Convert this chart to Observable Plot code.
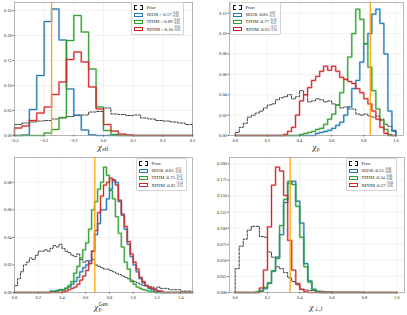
<!DOCTYPE html>
<html><head><meta charset="utf-8">
<script src="https://cdn.jsdelivr.net/npm/d3@7"></script>
<script src="https://cdn.jsdelivr.net/npm/@observablehq/plot@0.6"></script>
<style>
html,body{margin:0;padding:0;background:#fff;}
#root{position:relative;width:407px;height:315px;overflow:hidden;font-family:"Liberation Serif",serif;}
.panel{position:absolute;}
.leg{position:absolute;background:rgba(255,255,255,0.9);border:0.6px solid #d4d4d4;border-radius:1px;font-size:4.6px;padding:1px 3px 1px 2px;color:#222;white-space:nowrap;}
.row{height:7.2px;display:flex;align-items:center;}
.patch{display:inline-block;width:7px;height:2.4px;border:1.1px solid;margin-right:3.5px;}
.frac{display:inline-flex;flex-direction:column;font-size:3px;line-height:3px;margin-left:0.5px;}
.xl{position:absolute;font-family:"Liberation Serif",serif;font-size:9px;line-height:9px;transform:translateX(-50%);white-space:nowrap;color:#222;display:flex;align-items:center;}
.xl i{font-style:italic;}
.xl sub{font-size:5.5px;}
.stack{display:inline-flex;flex-direction:column;font-size:5.5px;line-height:5px;margin-left:0.5px;}
</style></head><body><div id="root"></div><script>
// ---------- data (bin heights) ----------
// Panel 1: chi_eff, bins from -0.3, width 0.025
const effStart = -0.3, effBin = 0.025;
const effPrior = [0.022,0.025,0.027,0.029,0.030,0.033,0.035,0.038,0.041,0.041,0.047,0.048,0.055,0.043,0.042,0.040,0.041,0.035,0.033,0.030,0.029,0.027,0.025,0.022];
const effSEOB  = [0,0.001,0.052,0.12,0.228,0.253,0.191,0.093,0.04,0.011,0.0013,0,0,0,0,0,0,0,0,0,0,0,0,0];
const effTPHM  = [0,0,0,0,0.005,0.012,0.036,0.19,0.24,0.207,0.133,0.057,0.01,0.002,0,0,0,0,0,0,0,0,0,0];
const effXPHM  = [0.015,0.019,0.03,0.045,0.057,0.082,0.107,0.152,0.167,0.147,0.097,0.053,0.022,0.009,0.003,0.001,0,0,0,0,0,0,0,0];
const effInj = -0.175;
const effXTicks = [-0.3,-0.2,-0.1,0.0,0.1,0.2,0.3];
const effYTicks = [0,0.05,0.10,0.15,0.20,0.25];
const effMed = ["−0.17","−0.09","−0.10"], effPlus = ["+0.03","+0.03","+0.05"], effMinus = ["−0.02","−0.03","−0.05"];

// Panel 2: chi_p, bins from 0, width 0.025
const pStart = 0, pBin = 0.025;
const pPrior = [0.003,0.008,0.012,0.018,0.02,0.022,0.024,0.027,0.03,0.031,0.035,0.037,0.038,0.04,0.036,0.038,0.044,0.04,0.033,0.034,0.036,0.035,0.033,0.034,0.031,0.030,0.027,0.028,0.026,0.026,0.021,0.02,0.021,0.019,0.018,0.019,0.016,0.011,0.009,0.004];
const pSEOB  = [0,0,0,0,0,0,0,0,0,0,0,0,0,0,0,0,0,0,0,0,0.002,0.003,0.004,0.005,0.007,0.01,0.013,0.02,0.028,0.046,0.054,0.072,0.09,0.1,0.119,0.124,0.11,0.08,0.024,0.005];
const pTPHM  = [0,0,0,0,0,0,0,0,0,0,0,0,0,0,0,0,0.001,0.002,0.003,0.004,0.006,0.007,0.011,0.016,0.021,0.03,0.042,0.055,0.077,0.1,0.124,0.114,0.09,0.067,0.044,0.026,0.015,0.006,0.001,0];
const pXPHM  = [0,0,0,0,0,0,0,0,0,0,0,0,0.001,0.004,0.008,0.02,0.034,0.04,0.047,0.054,0.058,0.063,0.068,0.064,0.068,0.063,0.057,0.055,0.053,0.051,0.046,0.042,0.036,0.031,0.024,0.016,0.008,0.002,0,0];
const pInj = 0.84;
const pXTicks = [0,0.2,0.4,0.6,0.8,1.0];
const pYTicks = [0,0.02,0.04,0.06,0.08,0.10,0.12];
const pMed = ["0.86","0.77","0.63"], pPlus = ["+0.07","+0.10","+0.17"], pMinus = ["−0.11","−0.12","−0.18"];

// Panel 3: chi_p^Gen, bins from 0, width 0.025
const gStart = 0, gBin = 0.025;
const gPrior = [0.005,0.01,0.015,0.02,0.022,0.025,0.024,0.027,0.03,0.03,0.031,0.03,0.032,0.034,0.033,0.035,0.032,0.03,0.029,0.027,0.026,0.028,0.024,0.022,0.023,0.021,0.024,0.02,0.019,0.018,0.017,0.017,0.016,0.015,0.014,0.013,0.012,0.011,0.01,0.009,0.008,0.007,0.006,0.005,0.005,0.004,0.004,0.003,0.004,0.003,0.003,0.003,0.002,0.002,0.002,0.002,0.001,0.001,0.001,0.001];
const gSEOB  = [0,0,0,0,0,0,0,0,0,0,0,0,0.001,0.001,0.0015,0.002,0.002,0.003,0.004,0.006,0.008,0.011,0.015,0.018,0.02,0.023,0.03,0.042,0.05,0.06,0.06,0.068,0.075,0.082,0.08,0.066,0.056,0.046,0.035,0.026,0.02,0.015,0.01,0.007,0.005,0.003,0.002,0.001,0.001,0,0,0,0,0,0,0,0,0,0,0];
const gTPHM  = [0,0,0,0,0,0,0,0,0,0,0,0,0.0005,0.0008,0.001,0.0015,0.002,0.003,0.005,0.008,0.014,0.019,0.025,0.031,0.036,0.046,0.06,0.066,0.075,0.08,0.091,0.085,0.074,0.068,0.055,0.043,0.033,0.022,0.017,0.008,0.006,0.004,0.003,0.002,0.0015,0.001,0.0005,0,0,0,0,0,0,0,0,0,0,0,0,0];
const gXPHM  = [0,0,0,0,0,0,0,0,0,0,0,0,0,0,0,0,0.0005,0.001,0.002,0.003,0.004,0.006,0.009,0.012,0.016,0.021,0.03,0.045,0.058,0.07,0.078,0.08,0.083,0.081,0.078,0.067,0.057,0.048,0.037,0.028,0.022,0.017,0.011,0.008,0.005,0.004,0.003,0.002,0.001,0.001,0,0,0,0,0,0,0,0,0,0];
const gInj = 0.677;
const gXTicks = [0,0.2,0.4,0.6,0.8,1.0,1.2,1.4];
const gYTicks = [0,0.02,0.04,0.06,0.08];
const gMed = ["0.81","0.75","0.82"], gPlus = ["+0.13","+0.13","+0.14"], gMinus = ["−0.16","−0.14","−0.15"];

// Panel 4: chi_perp,J, bins from 0, width 0.025
const jStart = 0, jBin = 0.025;
const jPrior = [0.037,0.072,0.083,0.097,0.103,0.103,0.087,0.086,0.063,0.055,0.04,0.037,0.031,0.023,0.017,0.012,0.005,0.004,0.003,0.003,0.002,0.002,0.001,0.001,0.0005,0.0005,0.0005,0.0005,0.0005,0.0005,0.0005,0.0005,0,0,0,0,0,0,0,0];
const jSEOB  = [0,0,0,0,0,0,0.002,0.006,0.014,0.033,0.055,0.09,0.14,0.17,0.173,0.142,0.108,0.045,0.018,0.005,0.001,0,0,0,0,0,0,0,0,0,0,0,0,0,0,0,0,0,0,0];
const jTPHM  = [0,0,0,0,0,0.001,0.003,0.008,0.015,0.034,0.053,0.104,0.145,0.173,0.168,0.134,0.086,0.04,0.016,0.004,0.001,0,0,0,0,0,0,0,0,0,0,0,0,0,0,0,0,0,0,0];
const jXPHM  = [0,0,0,0,0,0,0.007,0.035,0.102,0.167,0.195,0.189,0.151,0.081,0.035,0.014,0.005,0.001,0,0,0,0,0,0,0,0,0,0,0,0,0,0,0,0,0,0,0,0,0,0];
const jInj = 0.34;
const jXTicks = [0,0.2,0.4,0.6,0.8,1.0];
const jYTicks = [0,0.025,0.05,0.075,0.10,0.125,0.15,0.175,0.20];
const jMed = ["0.35","0.34","0.27"], jPlus = ["+0.06","+0.06","+0.04"], jMinus = ["−0.06","−0.06","−0.05"];

const names = ["SEOB","TPHM","XPHM"];
const colors = ["#1f77b4","#2ca02c","#d62728"];

// ---------- helpers ----------
function steps(start, w, vals){
  const pts = [{x:start, y:0}];
  vals.forEach((v,i)=>pts.push({x:start+i*w, y:v}));
  const end = start + vals.length*w;
  pts.push({x:end, y:vals[vals.length-1]});
  pts.push({x:end, y:0});
  return pts;
}
const FONT = "Liberation Serif, serif";
function panel(c){
  const marks = [
    Plot.gridX(c.xt, {stroke:"#e9e9e9", strokeOpacity:1, strokeWidth:0.6}),
    Plot.gridY(c.yt, {stroke:"#e9e9e9", strokeOpacity:1, strokeWidth:0.6}),
    Plot.line(steps(c.start,c.bw,c.prior), {x:"x", y:"y", curve:"step-after", stroke:"#111", strokeWidth:0.8, strokeDasharray:"2.4,1.4"})
  ];
  c.series.forEach((s,i)=>{
    marks.push(Plot.line(steps(c.start,c.bw,s), {x:"x", y:"y", curve:"step-after", stroke:colors[i], strokeOpacity:0.35, strokeWidth:2.2}));
    marks.push(Plot.line(steps(c.start,c.bw,s), {x:"x", y:"y", curve:"step-after", stroke:colors[i], strokeWidth:1.0}));
  });
  marks.push(Plot.ruleX([c.inj], {stroke:"#ffa500", strokeWidth:1.3}));
  marks.push(Plot.frame({stroke:"#9a9a9a", strokeWidth:0.7}));
  marks.push(Plot.axisX({ticks:c.xt, tickFormat:d3.format(c.xf), fontSize:4.4, tickSize:1.5, tickPadding:1.5, label:null, stroke:"#666", fill:"#222"}));
  marks.push(Plot.axisY({ticks:c.yt, tickFormat:d3.format(c.yf), fontSize:4.4, tickSize:1.5, tickPadding:1.2, label:null, stroke:"#666", fill:"#222"}));
  const svg = Plot.plot({
    width:c.w, height:c.h, marginTop:c.m[0], marginRight:c.m[1], marginBottom:c.m[2], marginLeft:c.m[3],
    x:{domain:c.xd}, y:{domain:c.yd},
    style:{fontFamily:FONT, background:"transparent", overflow:"visible"},
    marks
  });
  const d = document.createElement("div");
  d.className = "panel"; d.style.left = c.left+"px"; d.style.top = c.top+"px";
  d.appendChild(svg);
  root.appendChild(d);
  const L = document.createElement("div");
  L.className = "leg"; L.style.left = c.leg[0]+"px"; L.style.top = c.leg[1]+"px";
  let html = `<div class="row"><span class="patch" style="border-color:#111;border-style:dashed"></span>Prior</div>`;
  names.forEach((n,i)=>{
    html += `<div class="row"><span class="patch" style="border-color:${colors[i]}"></span>${n} :${c.med[i]}<span class="frac"><span>${c.plus[i]}</span><span>${c.minus[i]}</span></span></div>`;
  });
  L.innerHTML = html;
  root.appendChild(L);
  const X = document.createElement("div");
  X.className = "xl"; X.style.left = c.lab[0]+"px"; X.style.top = c.lab[1]+"px";
  X.innerHTML = c.label;
  root.appendChild(X);
}
const root = document.getElementById("root");

panel({left:0, top:0, w:203, h:155, m:[2,11,20,14], xd:[-0.3,0.3], yd:[0,0.266], xt:effXTicks, yt:effYTicks, xf:".1f", yf:".2f",
  start:effStart, bw:effBin, prior:effPrior, series:[effSEOB,effTPHM,effXPHM], inj:effInj,
  med:effMed, plus:effPlus, minus:effMinus, leg:[131,2], lab:[103,142], label:"<i>χ</i><span class='stack'><span>&nbsp;</span><span>eff</span></span>"});
panel({left:203, top:0, w:204, h:155, m:[2,4,20,26], xd:[-0.036,1.047], yd:[0,0.1305], xt:pXTicks, yt:pYTicks, xf:".1f", yf:".2f",
  start:pStart, bw:pBin, prior:pPrior, series:[pSEOB,pTPHM,pXPHM], inj:pInj,
  med:pMed, plus:pPlus, minus:pMinus, leg:[230,2], lab:[316,142], label:"<i>χ</i><span class='stack'><span>&nbsp;</span><span>p</span></span>"});
panel({left:0, top:155, w:203, h:160, m:[2,11,23,14], xd:[0,1.5], yd:[0,0.098], xt:gXTicks, yt:gYTicks, xf:".1f", yf:".2f",
  start:gStart, bw:gBin, prior:gPrior, series:[gSEOB,gTPHM,gXPHM], inj:gInj,
  med:gMed, plus:gPlus, minus:gMinus, leg:[136,158], lab:[101,302], label:"<i>χ</i><span class='stack'><span>Gen</span><span>p</span></span>"});
panel({left:203, top:155, w:204, h:160, m:[2,3,23,26], xd:[-0.035,1.048], yd:[0,0.21], xt:jXTicks, yt:jYTicks, xf:".1f", yf:".3f",
  start:jStart, bw:jBin, prior:jPrior, series:[jSEOB,jTPHM,jXPHM], inj:jInj,
  med:jMed, plus:jPlus, minus:jMinus, leg:[346,158], lab:[316,302], label:"<i>χ</i><span class='stack'><span>&nbsp;</span><span>⊥,J</span></span>"});
</script></body></html>
